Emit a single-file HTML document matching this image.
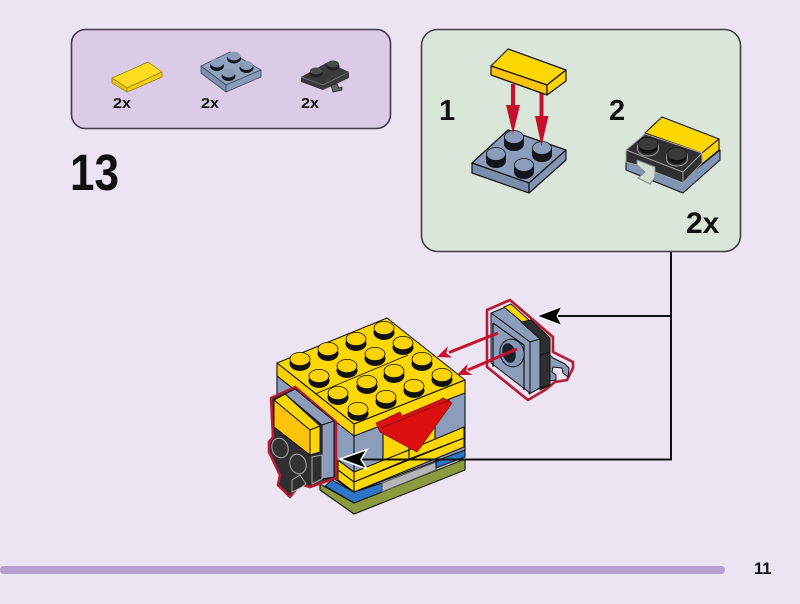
<!DOCTYPE html>
<html><head><meta charset="utf-8"><style>
html,body{margin:0;padding:0;background:#ece3f3}
svg{display:block}
text{font-family:"Liberation Sans",sans-serif;font-weight:bold;fill:#111}
</style></head><body>
<svg width="800" height="604" viewBox="0 0 800 604" xmlns="http://www.w3.org/2000/svg">
<defs>
<g id="sy"><ellipse cx="0" cy="4.500" rx="10.500" ry="7.500" fill="#111"/><ellipse cx="0" cy="0" rx="10" ry="6.600" fill="#fdd306" stroke="#111" stroke-width=".8"/></g>
<g id="sb"><path d="M-10,-1V5A10,7 0 0 0 10,5V-1Z" fill="#14161f"/><ellipse cx="0" cy="-2" rx="9.500" ry="6.500" fill="#8c9dbb" stroke="#111" stroke-width=".8"/></g>
<g id="sd"><path d="M-10.500,-2V3A10.500,7 0 0 0 10.500,3V-2Z" fill="#333" stroke="#9a9a9a" stroke-width="1"/><path d="M-9,-1V2A9,6 0 0 0 9,2V-1Z" fill="#141414"/><ellipse cx="0" cy="-2" rx="10" ry="6.500" fill="#3a3a3c" stroke="#111" stroke-width=".8"/></g>
</defs>
<rect width="800" height="604" fill="#ece3f3"/>

<rect x="71.500" y="29.500" width="319" height="99" rx="14" fill="#dccbe6" stroke="#3f3b47" stroke-width="1.600"/>
<rect x="421.500" y="29.500" width="319" height="222" rx="16" fill="#dae6da" stroke="#3f3f45" stroke-width="1.600"/>
<rect x="0" y="566" width="725" height="8" rx="4" fill="#b3a0cd"/>
<text x="754" y="574" font-size="16.500">11</text>
<text x="70" y="190" font-size="51" textLength="49" lengthAdjust="spacingAndGlyphs">13</text>
<text x="113" y="108" font-size="15" textLength="18" lengthAdjust="spacingAndGlyphs">2x</text>
<text x="201" y="108" font-size="15" textLength="18" lengthAdjust="spacingAndGlyphs">2x</text>
<text x="301" y="108" font-size="15" textLength="18" lengthAdjust="spacingAndGlyphs">2x</text>
<text x="439" y="120" font-size="29">1</text>
<text x="609" y="120" font-size="29">2</text>
<text x="686" y="233" font-size="30">2x</text>

<!-- legend tile -->
<g stroke="#8a7a10" stroke-width=".7" stroke-linejoin="round">
<path d="M112,78L148,62L162,72L127,88Z" fill="#fbdc20"/>
<path d="M112,78L127,88V92L112,83Z" fill="#edbe10"/>
<path d="M127,88L162,72V77L127,92Z" fill="#f5cf10"/>
</g>
<!-- legend plate -->
<g stroke="#3c4a63" stroke-width=".8" stroke-linejoin="round">
<path d="M201,66L230,52L261,70L226,85Z" fill="#92a3c0"/>
<path d="M201,66L226,85V92L201,73Z" fill="#7e90ad"/>
<path d="M226,85L261,70V77L226,92Z" fill="#8a9bb8"/>
</g>
<g fill="#14161f"><ellipse cx="217" cy="66" rx="7" ry="5"/><ellipse cx="234" cy="58.500" rx="7" ry="5"/><ellipse cx="246.500" cy="68" rx="7" ry="5"/><ellipse cx="228.500" cy="76" rx="7" ry="5"/></g>
<g fill="#8c9dbb"><ellipse cx="217" cy="63" rx="6.500" ry="4.500"/><ellipse cx="234" cy="56" rx="6.500" ry="4.500"/><ellipse cx="246.500" cy="65.500" rx="6.500" ry="4.500"/><ellipse cx="228.500" cy="73" rx="6.500" ry="4.500"/></g>
<!-- legend dark -->
<path d="M331,85L337,84L339,88L342,87L342,90L333,92Z" fill="#666" stroke="#222" stroke-width=".8"/>
<path d="M301,77L328,62L349,72V78L323,90L301,82Z" fill="#3a3a3c"/>
<path d="M301,77L323,85L349,72" fill="none" stroke="#777" stroke-width=".8"/>
<ellipse cx="316" cy="73" rx="6.500" ry="4.500" fill="#1f1f21"/><ellipse cx="333" cy="66" rx="6.500" ry="4.500" fill="#1f1f21"/>
<ellipse cx="316" cy="71" rx="6" ry="3.500" fill="#4a4a4c"/><ellipse cx="333" cy="64" rx="6" ry="3.500" fill="#4a4a4c"/>

<!-- step 1 plate -->
<g stroke="#111" stroke-width="1.200" stroke-linejoin="round">
<path d="M472,163L508,130L566,150L529,183Z" fill="#8c9dbb"/>
<path d="M472,163L529,183V193L472,173Z" fill="#7c8dab"/>
<path d="M529,183L566,150V160L529,193Z" fill="#8495b3"/>
</g>
<use href="#sb" x="514" y="139"/><use href="#sb" x="542" y="150"/><use href="#sb" x="496" y="156"/><use href="#sb" x="524" y="167"/>
<!-- step 1 arrows -->
<path d="M511,84H515V105L520,105L513,134L506,105H511Z" fill="#c5102c"/>
<path d="M539.500,93H543.500V116L548.500,116L541.500,146L535,116H539.500Z" fill="#c5102c"/>
<!-- step 1 tile -->
<g stroke="#111" stroke-width="1.200" stroke-linejoin="round">
<path d="M491,66L508,49L566,70L547,85Z" fill="#fdd800"/>
<path d="M491,66L547,85V95L491,75Z" fill="#fcc30c"/>
<path d="M547,85L566,70V81L547,95Z" fill="#fdd306"/>
</g>

<!-- step 2 -->
<g stroke="#111" stroke-width="1.100" stroke-linejoin="round">
<path d="M645,133L662,117L719,139L702,153Z" fill="#fdd800"/>
<path d="M702,153L719,139V150L702,164Z" fill="#fdd306"/>
<path d="M626,160L683,180L720,150V160L683,193L626,170Z" fill="#8395b5"/>
</g>
<g stroke="#a5a5a5" stroke-width="1" stroke-linejoin="round">
<path d="M626,150L645,134L702,153V163L683,183L637,165L626,162Z" fill="#2f2f31"/>
<path d="M626,150L683,172L702,153M683,172V183" fill="none"/>
<path d="M637,160L655,167V177L650,184L638,178L645,172L637,165Z" fill="#d2dbd0" stroke="#8a8a8a"/>
</g>
<use href="#sd" x="648" y="146"/><use href="#sd" x="677" y="156"/>

<!-- main model: base -->
<g stroke="#111" stroke-width="1.100" stroke-linejoin="round">
<path d="M320,484L354,503L465,459V470L354,514L320,490Z" fill="#8c9a3e"/>
<path d="M332,480L354,492L382,483V492L354,503L325,486Z" fill="#2f75c7"/>
<path d="M382,483L436,462V470L382,492Z" fill="#b6b6b6" stroke="#555"/>
<path d="M436,462L465,448V457L436,468Z" fill="#2f75c7"/>
<path d="M277,372L354,432V492L277,440Z" fill="#8c9dbb"/>
<path d="M354,432L465,390V450L354,492Z" fill="#8c9dbb"/>
<path d="M383,428L409,418V450L383,461Z" fill="#fdd800"/>
<path d="M409,418L435,407V445L409,455Z" fill="#fdd800"/>
<path d="M338,460L354,472V492L338,480Z" fill="#fdd800"/>
<path d="M354,472L409,450V459L354,482Z" fill="#fdd800"/>
<path d="M354,482L464,438V447L354,492Z" fill="#fdd800"/>
<path d="M409,450L464,427V438L409,459Z" fill="#fdd800"/>
<path d="M338,470L354,482" fill="none"/>
<path d="M277,363L387,318L465,380L354,424Z" fill="#fdd800"/>
<path d="M277,363L354,424V436L277,376Z" fill="#fdd000"/>
<path d="M354,424L465,380V393L354,436Z" fill="#fdd800"/>
<path d="M315,394L408,355" fill="none" stroke-width=".8"/>
</g>
<use href="#sy" x="300" y="359"/><use href="#sy" x="328" y="349"/><use href="#sy" x="356" y="339"/><use href="#sy" x="384" y="328"/>
<use href="#sy" x="319" y="376"/><use href="#sy" x="347" y="366"/><use href="#sy" x="375" y="354"/><use href="#sy" x="403" y="343"/>
<use href="#sy" x="338" y="393"/><use href="#sy" x="367" y="382"/><use href="#sy" x="394" y="371"/><use href="#sy" x="422" y="359"/>
<use href="#sy" x="358" y="409"/><use href="#sy" x="386" y="397"/><use href="#sy" x="414" y="386"/><use href="#sy" x="442" y="375"/>

<!-- red wedge -->
<path d="M376,423L380,432L417,452L452,403L443,398L440,400L402,416L400,412L383,420Z" fill="#dd0f0f" stroke="#8b1010" stroke-width=".8" stroke-linejoin="round"/>
<path d="M381,428L450,400" stroke="#8b1010" stroke-width="1" fill="none"/>

<!-- right sub-assembly -->
<path d="M487,310L510,300L553,337V352L573,362V368L567,380L555,382L545,390L528,400L487,367Z" fill="#ece3f3" stroke="#b51a30" stroke-width="2.600" stroke-linejoin="round"/>
<g stroke="#111" stroke-width="1" stroke-linejoin="round">
<path d="M491,313L506,307L550,338L530,342Z" fill="#8c9dbb"/>
<path d="M504,307L511,304L531,322L522,322Z" fill="#fdd800"/>
<path d="M521,322L531,320L550,338V385L540,390V339Z" fill="#2f2f31"/>
<path d="M530,342L540,339V388L529,394Z" fill="#8c9dbb"/>
<path d="M491,313L530,342V393L491,363Z" fill="#8c9dbb"/>
<path d="M550,355L553,358L565,364L569,368L568,377L563,373L562,368L553,367L552,372L556,375L556,380L550,381L543,373L540,362Z" fill="#8c9dbb"/>
<path d="M540,355L550,352V385L540,388Z" fill="#2f2f31"/>
</g>
<path d="M493,323L524,345V390M493,323V367" fill="none" stroke="#111" stroke-width="1.200"/>
<ellipse cx="512" cy="353" rx="12" ry="14" transform="rotate(-15 512 353)" fill="#8395b5" stroke="#111" stroke-width="1"/>
<ellipse cx="509" cy="353" rx="6.500" ry="10" transform="rotate(-15 509 353)" fill="#1c1e28"/>

<!-- red arrows into model -->
<path d="M498,333L449,352.500" stroke="#c5102c" stroke-width="3"/>
<path d="M437,357L447.800,346.400L446.300,353.300L452.200,357.600Z" fill="#c5102c"/>
<path d="M517,349L468,370" stroke="#c5102c" stroke-width="3"/>
<path d="M457,375L467.600,363.900L466.200,371L472.400,374.900Z" fill="#c5102c"/>

<!-- left sub-assembly -->
<path d="M271,398L295,387L336,422V478L310,487L300,484L290,497L278,485L280,475L269,452V442L273,437Z" fill="#2f2f31" stroke="#b51a30" stroke-width="2.600" stroke-linejoin="round"/>
<g stroke="#111" stroke-width="1" stroke-linejoin="round">
<path d="M285,394L295,389L334,421L322,425Z" fill="#8c9dbb"/>
<path d="M322,425L334,421V477L322,479Z" fill="#8c9dbb"/>
<path d="M274,400L285,394L320,426L310,430Z" fill="#fdd800"/>
<path d="M310,430L320,426V452L310,455Z" fill="#fdd800"/>
<path d="M274,400L310,430V455L274,427Z" fill="#fcc30c"/>
<path d="M312,457L322,455V479L312,484Z" fill="#2f2f31" stroke="#aaa"/>
</g>
<g fill="#333" stroke="#aaa" stroke-width="1"><ellipse cx="280" cy="448" rx="8" ry="10" transform="rotate(-18 280 448)"/><ellipse cx="298" cy="464" rx="8" ry="10" transform="rotate(-18 298 464)"/></g>
<path d="M292,480L300,475L306,484L300,488L292,492Z" fill="#2f2f31" stroke="#aaa" stroke-width=".9"/>

<!-- connectors -->
<path d="M671,252V459.500H362M671,316H558" fill="none" stroke="#111" stroke-width="2"/>
<path d="M537,316L562,306.500L557,316L562,325.500Z" fill="#000" stroke="#fff" stroke-width="1"/>
<path d="M340,459L367,449.500L361,459.500L367,469Z" fill="#000" stroke="#fff" stroke-width="1.500"/>
</svg>
</body></html>
